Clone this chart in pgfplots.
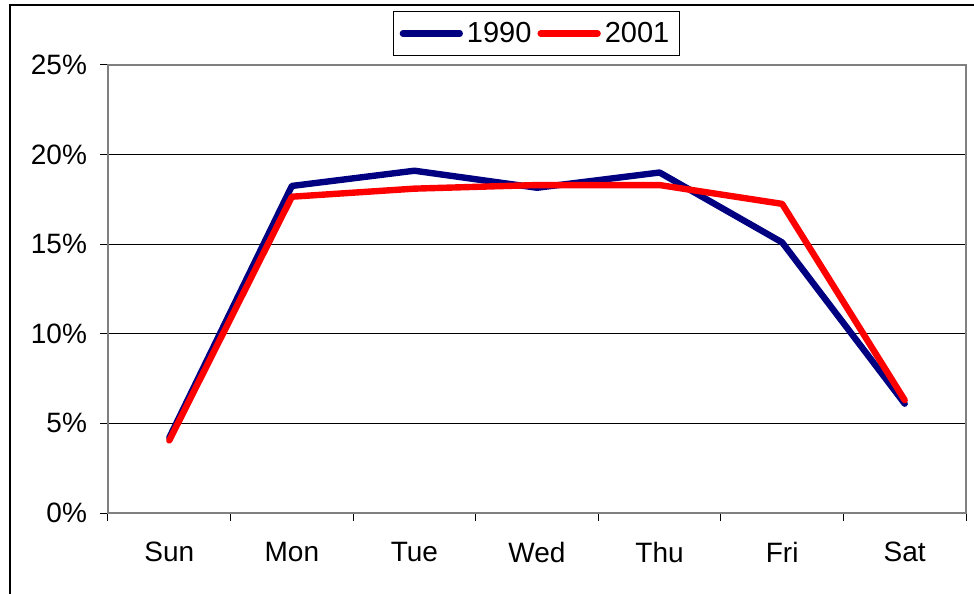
\documentclass[border=0pt]{standalone}
\usepackage{fontspec}
\setmainfont{Liberation Sans}
\usepackage{pgfplots}
\pgfplotsset{compat=1.18}
\definecolor{navyline}{RGB}{0,0,128}
\definecolor{axgray}{RGB}{128,128,128}
\begin{document}
\begin{tikzpicture}
\useasboundingbox (0pt,0pt) rectangle (487pt,297pt);
\draw[black,line width=0.8pt] (5pt,0pt) -- (5pt,294.5pt) -- (487pt,294.5pt);
\begin{axis}[
  at={(54pt,40.5pt)}, anchor=south west,
  scale only axis, width=429pt, height=224pt,
  xmin=-0.5, xmax=6.5, ymin=0, ymax=25,
  xtick={0,...,6},
  xticklabels={Sun,Mon,Tue,Wed,Thu,Fri,Sat},
  minor xtick={-0.5,0.5,...,6.5},
  ytick={0,5,...,25},
  yticklabel={\pgfmathprintnumber{\tick}\%},
  /pgf/number format/assume math mode=true,
  tick label style={font=\fontsize{14}{16}\selectfont},
  tickpos=left, tick align=outside,
  major tick length=4pt, minor tick length=4pt,
  x tick style={draw=none},
  minor x tick style={draw=black, line width=0.5pt},
  y tick style={draw=black, line width=0.5pt},
  ymajorgrids, grid style={black, line width=0.5pt},
  axis line style={axgray, line width=1pt},
  xticklabel style={yshift=-7pt},
  yticklabel style={xshift=-3pt},
  legend columns=2,
  legend style={at={(0.4994,1.0703)}, anchor=center, draw=black, line width=0.5pt,
    font=\fontsize{14.5}{16}\selectfont, inner xsep=3pt, inner ysep=3pt,
    /tikz/every even column/.append style={column sep=1pt}},
  legend image code/.code={\draw[#1, line width=3.2pt, line cap=round] (0cm,0cm) -- (1.0cm,0cm);},
]
\addplot[navyline, line width=3.2pt, line join=round, line cap=round] coordinates {
 (0,4.2) (1,18.25) (2,19.1) (3,18.15) (4,19.0) (5,15.1) (6,6.1)};
\addlegendentry{1990}
\addplot[red, line width=3.2pt, line join=round, line cap=round] coordinates {
 (0,4.05) (1,17.65) (2,18.1) (3,18.3) (4,18.3) (5,17.25) (6,6.3)};
\addlegendentry{2001}
\end{axis}
\end{tikzpicture}
\end{document}
